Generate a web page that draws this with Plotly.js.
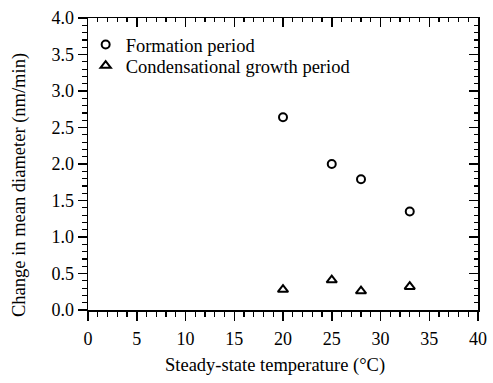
<!DOCTYPE html>
<html>
<head>
<meta charset="utf-8">
<script src="https://cdn.plot.ly/plotly-3.0.1.min.js"></script>
<style>
  html, body { margin: 0; padding: 0; background: #fff; }
  #chart { width: 493px; height: 383px; }
</style>
</head>
<body>
<div id="chart"></div>
<script>
// Steady-state temperature (°C)
const temperature = [20, 25, 28, 33];
// Change in mean diameter (nm/min)
const formationRate = [2.64, 2.0, 1.79, 1.35];
const condensationalRate = [0.28, 0.41, 0.26, 0.32];
const seriesNames = ['Formation period', 'Condensational growth period'];
const xTitle = 'Steady-state temperature (°C)';
const yTitle = 'Change in mean diameter (nm/min)';

const serif = 'Liberation Serif, Times New Roman, serif';
const ink = '#000';

const traces = [
  {
    x: temperature, y: formationRate, name: seriesNames[0],
    type: 'scatter', mode: 'markers', legend: 'legend',
    marker: { symbol: 'circle-open', size: 8, color: ink, line: { width: 2, color: ink } }
  },
  {
    x: temperature, y: condensationalRate, name: seriesNames[1],
    type: 'scatter', mode: 'markers', legend: 'legend2',
    marker: { symbol: 'triangle-up-open', size: 9, color: ink, line: { width: 2, color: ink } }
  },
  // carrier for the mirrored top/right frame axes
  {
    x: [0], y: [0], xaxis: 'x2', yaxis: 'y2', type: 'scatter', mode: 'markers',
    marker: { opacity: 0 }, showlegend: false, hoverinfo: 'skip'
  }
];

const baseAxis = {
  showgrid: false, zeroline: false, showline: true,
  linecolor: ink, linewidth: 1.5,
  tickcolor: ink, tickwidth: 1.5, ticklen: 9,
  tickfont: { family: serif, size: 18, color: ink }
};

const legendStyle = {
  xanchor: 'left', yanchor: 'middle',
  bgcolor: 'rgba(0,0,0,0)', borderwidth: 0,
  font: { family: serif, size: 18.5, color: ink },
  itemwidth: 30
};

const layout = {
  width: 493, height: 383,
  margin: { l: 88, r: 15, t: 18, b: 73 },
  paper_bgcolor: '#fff', plot_bgcolor: '#fff',
  font: { family: serif, color: ink },
  showlegend: true,
  legend: Object.assign({}, legendStyle, { x: -0.006, y: (310 - 45) / 292 }),
  legend2: Object.assign({}, legendStyle, { x: -0.006, y: (310 - 66) / 292 }),
  xaxis: Object.assign({}, baseAxis, {
    range: [0, 40], dtick: 5, tick0: 0, ticks: 'outside', ticklabelstandoff: 3,
    minor: { dtick: 1, ticks: 'outside', ticklen: 5, tickwidth: 1.2, tickcolor: ink }
  }),
  yaxis: Object.assign({}, baseAxis, {
    range: [0, 4], dtick: 0.5, tick0: 0, tickformat: '.1f', ticks: 'outside',
    minor: { dtick: 0.1, ticks: 'outside', ticklen: 5, tickwidth: 1.2, tickcolor: ink }
  }),
  xaxis2: Object.assign({}, baseAxis, {
    overlaying: 'x', side: 'top', range: [0, 40], dtick: 5, tick0: 0,
    ticks: 'inside', showticklabels: false,
    minor: { dtick: 1, ticks: 'inside', ticklen: 4, tickwidth: 1.2, tickcolor: ink }
  }),
  yaxis2: Object.assign({}, baseAxis, {
    overlaying: 'y', side: 'right', range: [0, 4], dtick: 0.5, tick0: 0,
    ticks: 'inside', showticklabels: false,
    minor: { dtick: 0.1, ticks: 'inside', ticklen: 4, tickwidth: 1.2, tickcolor: ink }
  }),
  annotations: [
    {
      text: xTitle, xref: 'paper', yref: 'paper',
      x: (275 - 88) / 390, y: (310 - 365) / 292, xanchor: 'center', yanchor: 'middle',
      showarrow: false, font: { family: serif, size: 18.5, color: ink }
    },
    {
      text: yTitle, xref: 'paper', yref: 'paper', textangle: -90,
      x: (19 - 88) / 390, y: (310 - 185) / 292, xanchor: 'center', yanchor: 'middle',
      showarrow: false, font: { family: serif, size: 18.5, color: ink }
    }
  ]
};

Plotly.newPlot('chart', traces, layout, { displayModeBar: false, staticPlot: true });
</script>
</body>
</html>
